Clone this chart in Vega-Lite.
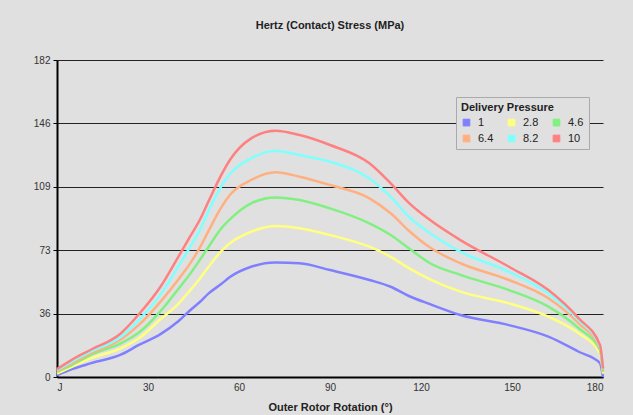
{
  "$schema": "https://vega.github.io/schema/vega-lite/v6.json",
  "width": 546,
  "height": 317,
  "autosize": {"type": "none"},
  "padding": {"left": 57, "top": 60, "right": 30, "bottom": 38},
  "background": "#e0e0e0",
  "title": {"text": "Hertz (Contact) Stress (MPa)", "font": "Liberation Sans", "fontSize": 11, "fontWeight": "bold", "color": "#222", "anchor": "middle", "offset": 24},
  "config": {"view": {"stroke": null}, "font": "Liberation Sans"},
  "data": {"values": [
    {"d":0,"p":"1","s":1},{"d":0,"p":"2.8","s":2},{"d":0,"p":"4.6","s":3},{"d":0,"p":"6.4","s":3.5},{"d":0,"p":"8.2","s":4},{"d":0,"p":"10","s":4.5},
    {"d":5,"p":"1","s":4.5},{"d":5,"p":"2.8","s":6},{"d":5,"p":"4.6","s":7},{"d":5,"p":"6.4","s":8},{"d":5,"p":"8.2","s":9},{"d":5,"p":"10","s":10},
    {"d":11,"p":"1","s":7.8},{"d":11,"p":"2.8","s":10.7},{"d":11,"p":"4.6","s":12.6},{"d":11,"p":"6.4","s":13.5},{"d":11,"p":"8.2","s":14.5},{"d":11,"p":"10","s":15.5},
    {"d":21,"p":"1","s":12.8},{"d":21,"p":"2.8","s":16.5},{"d":21,"p":"4.6","s":19.3},{"d":21,"p":"6.4","s":21.5},{"d":21,"p":"8.2","s":23},{"d":21,"p":"10","s":25},
    {"d":27,"p":"1","s":18.4},{"d":27,"p":"2.8","s":22.2},{"d":27,"p":"4.6","s":25.5},{"d":27,"p":"6.4","s":29.9},{"d":27,"p":"8.2","s":32.7},{"d":27,"p":"10","s":36},
    {"d":34,"p":"1","s":24.5},{"d":34,"p":"2.8","s":33},{"d":34,"p":"4.6","s":37.5},{"d":34,"p":"6.4","s":43},{"d":34,"p":"8.2","s":47},{"d":34,"p":"10","s":51.5},
    {"d":40,"p":"1","s":32},{"d":40,"p":"2.8","s":42},{"d":40,"p":"4.6","s":50.5},{"d":40,"p":"6.4","s":56},{"d":40,"p":"8.2","s":63.5},{"d":40,"p":"10","s":69},
    {"d":44,"p":"1","s":38.5},{"d":44,"p":"2.8","s":50},{"d":44,"p":"4.6","s":59.5},{"d":44,"p":"6.4","s":65.5},{"d":44,"p":"8.2","s":75},{"d":44,"p":"10","s":81},
    {"d":47,"p":"1","s":42.9},{"d":47,"p":"2.8","s":56.3},{"d":47,"p":"4.6","s":67},{"d":47,"p":"6.4","s":74},{"d":47,"p":"8.2","s":84},{"d":47,"p":"10","s":90},
    {"d":50,"p":"1","s":48},{"d":50,"p":"2.8","s":63.3},{"d":50,"p":"4.6","s":74.8},{"d":50,"p":"6.4","s":84},{"d":50,"p":"8.2","s":95.5},{"d":50,"p":"10","s":101},
    {"d":54,"p":"1","s":53.2},{"d":54,"p":"2.8","s":72},{"d":54,"p":"4.6","s":85},{"d":54,"p":"6.4","s":97},{"d":54,"p":"8.2","s":109},{"d":54,"p":"10","s":115.5},
    {"d":57,"p":"1","s":57.4},{"d":57,"p":"2.8","s":76.8},{"d":57,"p":"4.6","s":90.5},{"d":57,"p":"6.4","s":104.5},{"d":57,"p":"8.2","s":116.5},{"d":57,"p":"10","s":124.6},
    {"d":64,"p":"1","s":63.3},{"d":64,"p":"2.8","s":83.4},{"d":64,"p":"4.6","s":99.7},{"d":64,"p":"6.4","s":113.1},{"d":64,"p":"8.2","s":125.5},{"d":64,"p":"10","s":137},
    {"d":72,"p":"1","s":65.8},{"d":72,"p":"2.8","s":86.7},{"d":72,"p":"4.6","s":103.1},{"d":72,"p":"6.4","s":117.5},{"d":72,"p":"8.2","s":129.9},{"d":72,"p":"10","s":141.4},
    {"d":80,"p":"1","s":65.3},{"d":80,"p":"2.8","s":85.4},{"d":80,"p":"4.6","s":101.6},{"d":80,"p":"6.4","s":115},{"d":80,"p":"8.2","s":127.4},{"d":80,"p":"10","s":138.9},
    {"d":90,"p":"1","s":61.4},{"d":90,"p":"2.8","s":81.5},{"d":90,"p":"4.6","s":96.8},{"d":90,"p":"6.4","s":110.2},{"d":90,"p":"8.2","s":123.6},{"d":90,"p":"10","s":133.2},
    {"d":103,"p":"1","s":55.7},{"d":103,"p":"2.8","s":74.8},{"d":103,"p":"4.6","s":88.2},{"d":103,"p":"6.4","s":102.6},{"d":103,"p":"8.2","s":114},{"d":103,"p":"10","s":122.7},
    {"d":110,"p":"1","s":51.8},{"d":110,"p":"2.8","s":69},{"d":110,"p":"4.6","s":81.5},{"d":110,"p":"6.4","s":94},{"d":110,"p":"8.2","s":103.5},{"d":110,"p":"10","s":111.2},
    {"d":116,"p":"1","s":46.5},{"d":116,"p":"2.8","s":62.5},{"d":116,"p":"4.6","s":73.9},{"d":116,"p":"6.4","s":84},{"d":116,"p":"8.2","s":92},{"d":116,"p":"10","s":100},
    {"d":123,"p":"1","s":41.8},{"d":123,"p":"2.8","s":56},{"d":123,"p":"4.6","s":65.3},{"d":123,"p":"6.4","s":74.3},{"d":123,"p":"8.2","s":82.5},{"d":123,"p":"10","s":90.1},
    {"d":133,"p":"1","s":35.6},{"d":133,"p":"2.8","s":49},{"d":133,"p":"4.6","s":58.6},{"d":133,"p":"6.4","s":65.3},{"d":133,"p":"8.2","s":71.9},{"d":133,"p":"10","s":78.6},
    {"d":149,"p":"1","s":29.8},{"d":149,"p":"2.8","s":42.3},{"d":149,"p":"4.6","s":49.9},{"d":149,"p":"6.4","s":55.7},{"d":149,"p":"8.2","s":60.4},{"d":149,"p":"10","s":63.3},
    {"d":162,"p":"1","s":23.2},{"d":162,"p":"2.8","s":34.6},{"d":162,"p":"4.6","s":40.4},{"d":162,"p":"6.4","s":45.2},{"d":162,"p":"8.2","s":48},{"d":162,"p":"10","s":49.9},
    {"d":172,"p":"1","s":14.5},{"d":172,"p":"2.8","s":25.1},{"d":172,"p":"4.6","s":28},{"d":172,"p":"6.4","s":30.8},{"d":172,"p":"8.2","s":32.7},{"d":172,"p":"10","s":33.7},
    {"d":179,"p":"1","s":8},{"d":179,"p":"2.8","s":13.6},{"d":179,"p":"4.6","s":15.5},{"d":179,"p":"6.4","s":16.5},{"d":179,"p":"8.2","s":17.4},{"d":179,"p":"10","s":18.4},
    {"d":180,"p":"1","s":0},{"d":180,"p":"2.8","s":2},{"d":180,"p":"4.6","s":3},{"d":180,"p":"6.4","s":4},{"d":180,"p":"8.2","s":5},{"d":180,"p":"10","s":5}
  ]},
  "encoding": {
    "x": {"field": "d", "type": "quantitative", "scale": {"domain": [0, 180], "nice": false},
      "axis": {"values": [0, 30, 60, 90, 120, 150, 180], "labelExpr": "datum.value == 0 ? 'J' : datum.label", "title": "Outer Rotor Rotation (°)", "titleFont": "Liberation Sans", "titleFontSize": 11, "titleFontWeight": "bold", "titleColor": "#222", "titlePadding": 9, "labelFont": "Liberation Sans", "labelFontSize": 10, "labelColor": "#333", "labelPadding": 5, "domainColor": "#000", "domainWidth": 2, "ticks": false, "grid": false}},
    "y": {"field": "s", "type": "quantitative", "scale": {"domain": [0, 182], "nice": false},
      "axis": {"values": [0, 36.4, 72.8, 109.2, 145.6, 182], "format": ".0f", "title": null, "labelFont": "Liberation Sans", "labelFontSize": 10, "labelColor": "#333", "labelPadding": 3, "domainColor": "#000", "domainWidth": 2, "tickColor": "#000", "tickSize": 4, "grid": true, "gridColor": "#222", "gridWidth": 1, "gridOpacity": 1}},
    "color": {"field": "p", "type": "nominal", "scale": {"domain": ["1", "2.8", "4.6", "6.4", "8.2", "10"], "range": ["#8080ff", "#ffff80", "#80f080", "#ffb080", "#80ffff", "#ff8080"]},
      "legend": {"title": "Delivery Pressure", "orient": "none", "legendX": 399, "legendY": 37, "columns": 3, "direction": "horizontal", "columnPadding": 12, "rowPadding": 4, "symbolType": "square", "symbolSize": 45, "symbolOpacity": 1, "labelFont": "Liberation Sans", "labelFontSize": 11, "labelColor": "#222", "labelLimit": 40, "labelOffset": 6, "titleFont": "Liberation Sans", "titleFontSize": 11, "titleFontWeight": "bold", "titleColor": "#222", "titlePadding": 4, "padding": 5, "strokeColor": "#aaa", "fillColor": "#e0e0e0", "cornerRadius": 0, "gridAlign": "all",
        "encode": {"symbols": {"update": {"stroke": {"value": "#444"}, "strokeWidth": {"value": 1}}}}}}
  },
  "layer": [
    {
      "mark": {"type": "point", "shape": "square", "filled": true, "opacity": 0}
    },
    {
      "mark": {"type": "line", "strokeWidth": 2.5, "interpolate": "monotone"}
    }
  ]
}
